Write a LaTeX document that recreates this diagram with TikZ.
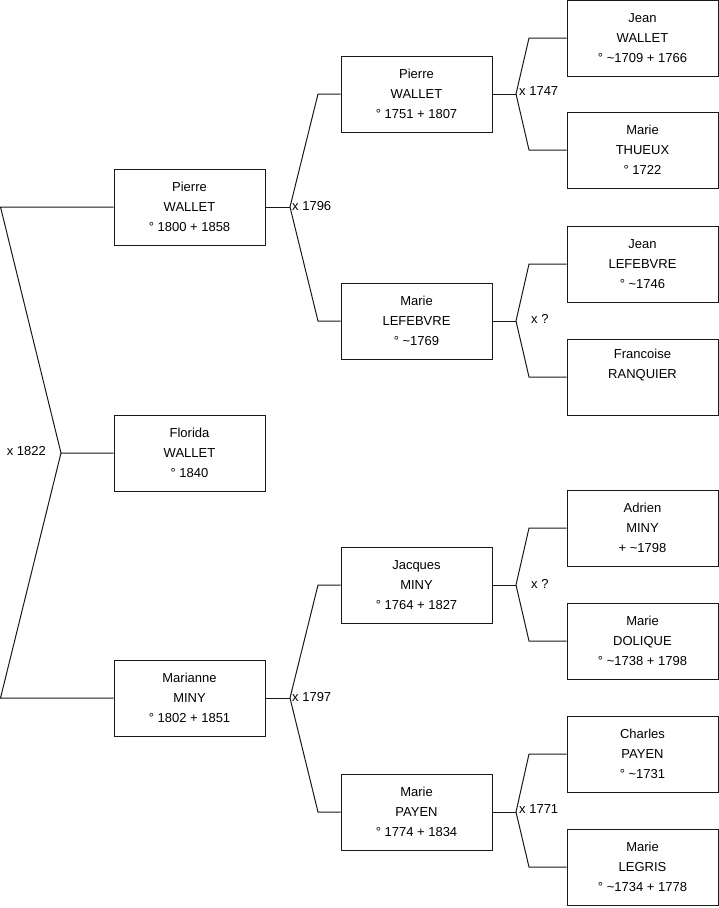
\documentclass[tikz,border=0pt]{standalone}
\usepackage{fontspec}
\setmainfont{Liberation Sans}
\begin{document}
\begin{tikzpicture}[x=1pt,y=-1pt,
  person/.style={draw=black!90,line width=1pt,minimum width=151pt,minimum height=76pt,inner sep=0pt,align=center,
    font=\fontsize{13}{20}\selectfont},
  link/.style={draw=black!90,line width=1pt},
  marr/.style={font=\fontsize{13}{15}\selectfont,inner sep=1pt}]
\useasboundingbox (0,0) rectangle (719,908);
% column 1
\node[person] (p1) at (189.5,207) {Pierre\\WALLET\\° 1800 + 1858};
\node[person] (fl) at (189.5,453) {Florida\\WALLET\\° 1840};
\node[person] (m1) at (189.5,698) {Marianne\\MINY\\° 1802 + 1851};
% column 2
\node[person] (p2) at (416.5,94) {Pierre\\WALLET\\° 1751 + 1807};
\node[person] (ml) at (416.5,321) {Marie\\LEFEBVRE\\° \char"7E 1769};
\node[person] (jm) at (416.5,585) {Jacques\\MINY\\° 1764 + 1827};
\node[person] (mp) at (416.5,812) {Marie\\PAYEN\\° 1774 + 1834};
% column 3
\node[person] (jw) at (642.5,38) {Jean\\WALLET\\° \char"7E 1709 + 1766};
\node[person] (mt) at (642.5,150) {Marie\\THUEUX\\° 1722};
\node[person] (jl) at (642.5,264) {Jean\\LEFEBVRE\\° \char"7E 1746};
\node[person] (fr) at (642.5,377) {Francoise\\RANQUIER\\\strut};
\node[person] (am) at (642.5,528) {Adrien\\MINY\\+ \char"7E 1798};
\node[person] (md) at (642.5,641) {Marie\\DOLIQUE\\° \char"7E 1738 + 1798};
\node[person] (cp) at (642.5,754) {Charles\\PAYEN\\° \char"7E 1731};
\node[person] (lg) at (642.5,867) {Marie\\LEGRIS\\° \char"7E 1734 + 1778};
% root couple
\coordinate (rt) at (0.5,207);
\coordinate (rv) at (61,453);
\coordinate (rb) at (0.5,698);
\draw[link] (p1.west) -- (rt) -- (rv) -- (fl.west);
\draw[link] (rv) -- (rb) -- (m1.west);
\node[marr,anchor=east] at (47,451) {x 1822};
% generic couples
\foreach \c/\f/\m/\vx/\tx in {p1/p2/ml/290/318, m1/jm/mp/290/318, p2/jw/mt/516/529, ml/jl/fr/516/529, jm/am/md/516/529, mp/cp/lg/516/529}{
  \coordinate (v\c) at (\vx,0 |- \c.east);
  \coordinate (vf\c) at (\tx,0 |- \f.west);
  \coordinate (vm\c) at (\tx,0 |- \m.west);
  \draw[link] (\c.east) -- (v\c);
  \draw[link] (\f.west) -- (vf\c) -- (v\c) -- (vm\c) -- (\m.west);
}
\node[marr,anchor=west] at ([xshift=1,yshift=1]vp1) {x 1796};
\node[marr,anchor=west] at ([xshift=1,yshift=1]vm1) {x 1797};
\node[marr,anchor=west] at ([xshift=2,yshift=3]vp2) {x 1747};
\node[marr,anchor=west] at ([xshift=14,yshift=2]vml) {x ?};
\node[marr,anchor=west] at ([xshift=14,yshift=1]vjm) {x ?};
\node[marr,anchor=west] at ([xshift=2,yshift=3]vmp) {x 1771};
\end{tikzpicture}
\end{document}
